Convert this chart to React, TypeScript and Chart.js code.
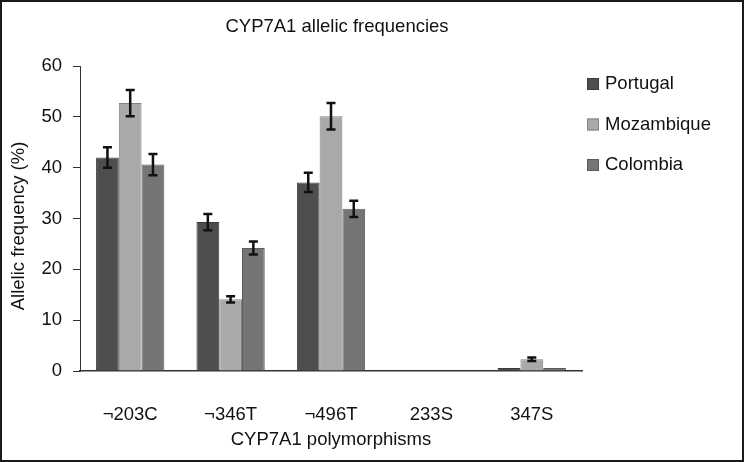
import React, { useEffect, useRef } from "react";
import { Chart, registerables } from "chart.js";

Chart.register(...registerables);

const categories = ["¬203C", "¬346T", "¬496T", "233S", "347S"];
const seriesNames = ["Portugal", "Mozambique", "Colombia"];
const portugal = [42.0, 29.3, 37.1, 0, 0.6];
const mozambique = [52.7, 14.1, 50.1, 0, 2.3];
const colombia = [40.6, 24.2, 31.9, 0, 0.6];
const portugalErr = [2.0, 1.6, 1.9, 0, 0];
const mozambiqueErr = [2.6, 0.6, 2.6, 0, 0.35];
const colombiaErr = [2.1, 1.3, 1.6, 0, 0];
const yTicks = [0, 10, 20, 30, 40, 50, 60];

const chartTitle = "CYP7A1 allelic frequencies";
const xTitle = "CYP7A1 polymorphisms";
const yTitle = "Allelic frequency (%)";

const FONT = '"Liberation Sans", Arial, sans-serif';
const FS = 18.5;
const fills = ["#4e4e4e", "#a9a9a9", "#757575"];
const borders = ["#3c3c3c", "#838383", "#5c5c5c"];

const errorBarsPlugin = {
  id: "errorBars",
  afterDatasetsDraw(chart: any) {
    const ctx = chart.ctx;
    const yScale = chart.scales.y;
    ctx.save();
    ctx.strokeStyle = "#111";
    ctx.lineWidth = 2.5;
    chart.data.datasets.forEach((ds: any, di: number) => {
      const meta = chart.getDatasetMeta(di);
      meta.data.forEach((bar: any, i: number) => {
        const e = ds.errors[i];
        if (!e) return;
        const v = ds.data[i];
        const yt = yScale.getPixelForValue(v + e);
        const yb = yScale.getPixelForValue(v - e);
        const x = bar.x;
        const cap = 4.5;
        ctx.beginPath();
        ctx.moveTo(x, yt);
        ctx.lineTo(x, yb);
        ctx.moveTo(x - cap, yt);
        ctx.lineTo(x + cap, yt);
        ctx.moveTo(x - cap, yb);
        ctx.lineTo(x + cap, yb);
        ctx.stroke();
      });
    });
    ctx.restore();
  },
};

const decorPlugin = {
  id: "decor",
  afterDraw(chart: any, _args: any, opts: any) {
    const ctx = chart.ctx;
    const area = chart.chartArea;
    ctx.save();
    ctx.fillStyle = "#111";
    ctx.font = `${FS}px ${FONT}`;
    ctx.textAlign = "center";
    ctx.textBaseline = "middle";
    // chart title
    ctx.fillText(opts.title, opts.titleX, opts.titleY);
    // y axis title
    ctx.save();
    ctx.translate(opts.yTitleX, opts.yTitleY);
    ctx.rotate(-Math.PI / 2);
    ctx.fillText(opts.yTitle, 0, 0);
    ctx.restore();
    // legend
    ctx.textAlign = "left";
    chart.data.datasets.forEach((ds: any, i: number) => {
      const cy = opts.legendY + i * opts.legendGap;
      const bx = area.right + 5;
      ctx.fillStyle = ds.backgroundColor;
      ctx.fillRect(bx, cy - 6, 12, 12);
      ctx.strokeStyle = ds.borderColor;
      ctx.lineWidth = 1;
      ctx.strokeRect(bx + 0.5, cy - 5.5, 11, 11);
      ctx.fillStyle = "#111";
      ctx.fillText(ds.label, bx + 18, cy);
    });
    // frame
    ctx.strokeStyle = "#1a1a1a";
    ctx.lineWidth = 2;
    ctx.strokeRect(1, 1, chart.width - 2, chart.height - 2);
    ctx.restore();
  },
};

export default function App() {
  const ref = useRef<HTMLCanvasElement | null>(null);

  useEffect(() => {
    if (!ref.current) return;
    const values = [portugal, mozambique, colombia];
    const errs = [portugalErr, mozambiqueErr, colombiaErr];
    const chart = new Chart(ref.current, {
      type: "bar",
      data: {
        labels: categories,
        datasets: seriesNames.map((name, i) => ({
          label: name,
          data: values[i],
          errors: errs[i],
          backgroundColor: fills[i],
          borderColor: borders[i],
          borderWidth: 1,
          categoryPercentage: 0.68,
          barPercentage: 1.0,
        })) as any,
      },
      options: {
        responsive: false,
        animation: false,
        layout: { padding: { top: 66, right: 162, bottom: 0, left: 0 } },
        plugins: {
          legend: { display: false },
          title: { display: false },
          tooltip: { enabled: false },
          decor: {
            title: chartTitle,
            titleX: 337,
            titleY: 27,
            yTitle: yTitle,
            yTitleX: 19,
            yTitleY: 226,
            legendY: 84,
            legendGap: 40.5,
          },
        } as any,
        scales: {
          x: {
            grid: { display: false },
            border: { display: true, color: "#333", width: 1.5 },
            ticks: {
              color: "#111",
              font: { family: FONT, size: FS },
              padding: 25,
              maxRotation: 0,
            },
            title: {
              display: true,
              text: xTitle,
              color: "#111",
              font: { family: FONT, size: FS },
              padding: { top: 0, bottom: 11 },
            },
            afterFit(scale: any) {
              scale.height = 91;
            },
          },
          y: {
            min: 0,
            max: 60,
            afterBuildTicks(scale: any) {
              scale.ticks = yTicks.map((v) => ({ value: v }));
            },
            grid: {
              drawOnChartArea: false,
              drawTicks: true,
              tickLength: 7,
              color: "#333",
              lineWidth: 1,
            },
            border: { display: true, color: "#333", width: 1 },
            ticks: {
              color: "#111",
              font: { family: FONT, size: FS },
              padding: 11,
            },
            title: { display: false },
            afterFit(scale: any) {
              scale.width = 80;
            },
          },
        },
      },
      plugins: [errorBarsPlugin, decorPlugin],
    });
    return () => chart.destroy();
  }, []);

  return (
    <div style={{ position: "fixed", left: 0, top: 0, width: 744, height: 462, background: "#fff" }}>
      <canvas ref={ref} width={744} height={462} style={{ display: "block" }} />
    </div>
  );
}
